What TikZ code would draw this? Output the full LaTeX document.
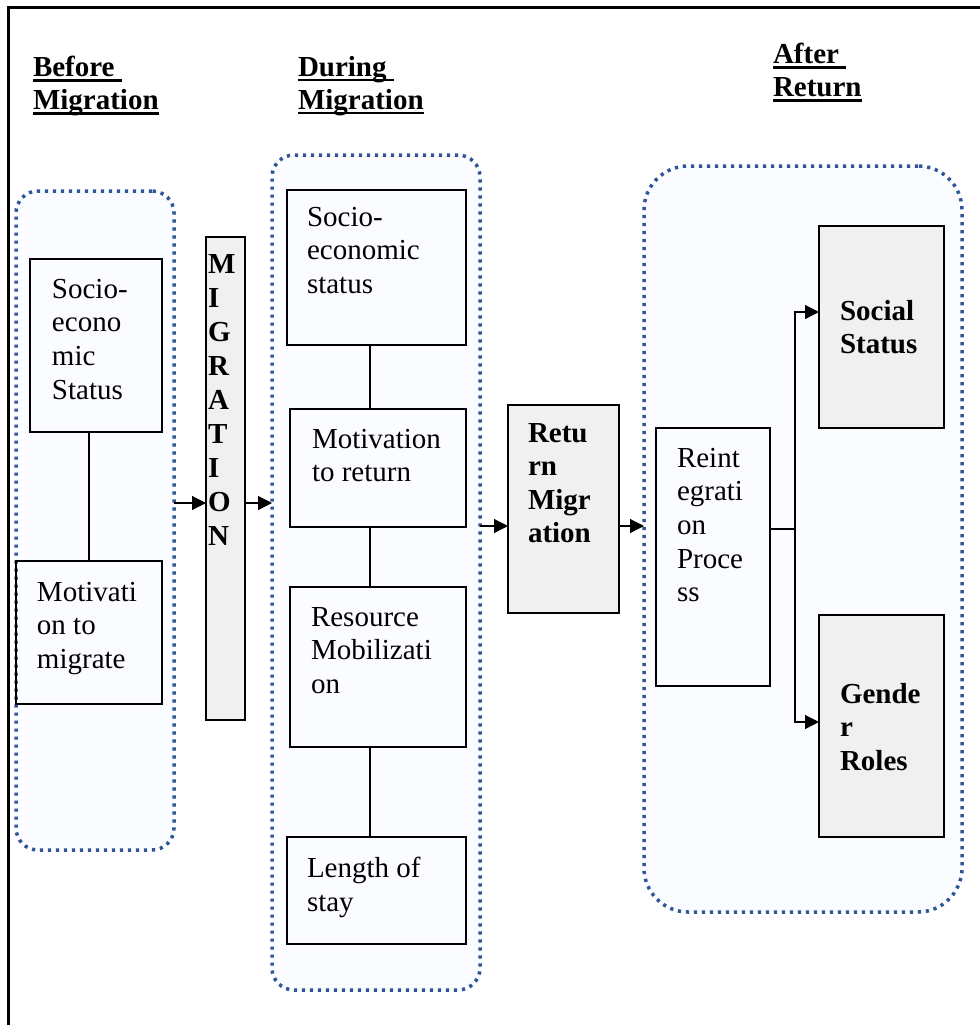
\documentclass[tikz,border=0pt]{standalone}
\usepackage{fontspec}
\setmainfont{Liberation Serif}
\usetikzlibrary{arrows.meta,positioning}
\definecolor{grpblue}{RGB}{47,85,151}
\definecolor{grpfill}{RGB}{250,252,255}
\definecolor{boxgray}{RGB}{240,240,240}
\newcommand{\hdul}[1]{\setbox0=\hbox{#1}\rlap{\rule[-2.6pt]{\wd0}{1.1pt}}\box0}

\begin{document}
\begin{tikzpicture}[
  x=0.5pt,y=-0.5pt,
  every node/.style={font=\fontsize{14.5}{16.8}\selectfont,inner sep=0pt,outer sep=0pt},
  grp/.style={draw=grpblue,fill=grpfill,line width=1.75pt,dash pattern=on 1.6pt off 2.4pt,rounded corners=11pt,anchor=north west},
  box/.style={draw,line width=0.8pt,anchor=north west},
  gbox/.style={box,fill=boxgray},
  head/.style={anchor=north west,align=left,font=\fontsize{14.5}{16.5}\selectfont\bfseries},
  txt/.style={anchor=north west,align=left},
  btxt/.style={txt,font=\fontsize{14.5}{16.8}\selectfont\bfseries},
  conn/.style={line width=0.6pt},
  arr/.style={conn,-{Triangle[length=7pt,width=7pt]}}
]
\useasboundingbox (0,0) rectangle (980,1025);
\draw[line width=1.5pt] (8,1025) -- (8,7) -- (980,7);

% headings
\node[head] (hbefore) at (33,56) {\hdul{Before\ }\\\hdul{Migration}};
\node[head] (hduring) at (298,56) {\hdul{During\ }\\\hdul{Migration}};
\node[head] (hafter) at (773,43) {\hdul{After\ }\\\hdul{Return}};

% stage groups
\node[grp,minimum width=79pt,minimum height=329.5pt] (bgrp) at (16,191) {};
\node[grp,minimum width=104pt,minimum height=417.5pt] (dgrp) at (272,155) {};
\node[grp,rounded corners=22pt,minimum width=159pt,minimum height=373pt] (agrp) at (644,166) {};

% before migration
\node[box,minimum width=66pt,minimum height=86.5pt,
  label={[txt,xshift=11pt,yshift=-10pt]north west:Socio-\\econo\\mic\\Status}] (bsoc) at (30,259) {};
\node[box,minimum width=73pt,minimum height=71.5pt,
  label={[txt,xshift=10.5pt,yshift=-10.5pt]north west:Motivati\\on to\\migrate}] (bmot) at (16,561) {};

\node[gbox,minimum width=19.5pt,minimum height=241.5pt,
  label={[btxt,font=\fontsize{14.5}{17}\selectfont\bfseries,xshift=1pt,yshift=-8.5pt]north west:M\\I\\G\\R\\A\\T\\I\\O\\N}] (mig) at (206,237) {};

% during migration
\node[box,minimum width=89.5pt,minimum height=77.5pt,
  label={[txt,xshift=10pt,yshift=-8.5pt]north west:Socio-\\economic\\status}] (dsoc) at (287,190) {};
\node[box,minimum width=88pt,minimum height=59pt,
  label={[txt,xshift=11pt,yshift=-10pt]north west:Motivation\\to return}] (dmot) at (290,409) {};
\node[box,minimum width=88pt,minimum height=80pt,
  label={[txt,xshift=10.5pt,yshift=-10pt]north west:Resource\\Mobilizati\\on}] (dres) at (290,587) {};
\node[box,minimum width=89.5pt,minimum height=53.5pt,
  label={[txt,xshift=10pt,yshift=-10pt]north west:Length of\\stay}] (dlen) at (287,837) {};

\node[gbox,minimum width=55.5pt,minimum height=104pt,
  label={[btxt,xshift=10pt,yshift=-9pt]north west:Retu\\rn\\Migr\\ation}] (ret) at (508,405) {};

% after return
\node[box,minimum width=57pt,minimum height=129pt,
  label={[txt,xshift=10.5pt,yshift=-10pt]north west:Reint\\egrati\\on\\Proce\\ss}] (reint) at (656,428) {};
\node[gbox,minimum width=62.5pt,minimum height=101pt,
  label={[btxt,xshift=10.5pt,yshift=-37pt]north west:Social\\Status}] (soc) at (819,226) {};
\node[gbox,minimum width=62.5pt,minimum height=111pt,
  label={[btxt,xshift=10.5pt,yshift=-34pt]north west:Gende\\r\\Roles}] (gen) at (819,615) {};

% links
\draw[conn] (bmot.north) -- (bmot.north |- bsoc.south);
\coordinate (dl) at (370,0);
\draw[conn] (dl |- dsoc.south) -- (dl |- dmot.north);
\draw[conn] (dl |- dmot.south) -- (dl |- dres.north);
\draw[conn] (dl |- dres.south) -- (dl |- dlen.north);

\coordinate (ya) at (0,503);
\draw[arr] (ya -| bgrp.east) -- (ya -| mig.west);
\draw[arr] (ya -| mig.east) -- (ya -| dgrp.west);
\coordinate (yb) at (0,526);
\draw[arr] (yb -| dgrp.east) -- (yb -| ret.west);
\draw[arr] (yb -| ret.east) -- (yb -| agrp.west);

\coordinate (fork) at (795,529);
\coordinate (ys) at (0,312);
\coordinate (yg) at (0,722);
\draw[conn] (fork -| reint.east) -- (fork);
\draw[arr] (fork) |- (ys -| soc.west);
\draw[arr] (fork) |- (yg -| gen.west);
\end{tikzpicture}
\end{document}
